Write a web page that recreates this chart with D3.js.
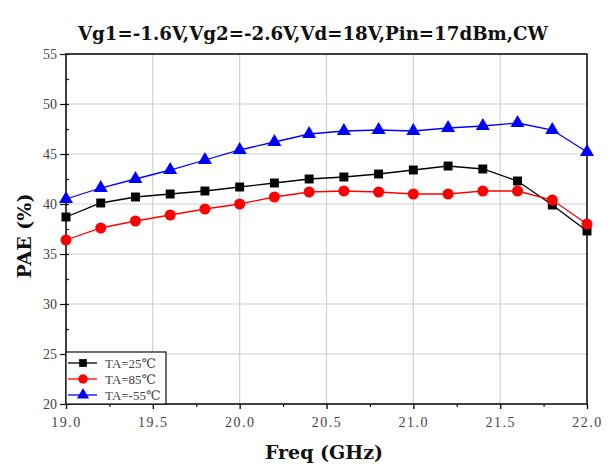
<!DOCTYPE html>
<html>
<head>
<meta charset="utf-8">
<script src="https://cdn.jsdelivr.net/npm/d3@7"></script>
<style>
  body { margin: 0; background: #fff; }
  svg { display: block; }
</style>
</head>
<body>
<script>
(function all (){
  //chart data
  var freq = [19.0, 19.2, 19.4, 19.6, 19.8, 20.0, 20.2, 20.4, 20.6, 20.8, 21.0, 21.2, 21.4, 21.6, 21.8, 22.0];
  var pae25 = [38.7, 40.1, 40.7, 41.0, 41.3, 41.7, 42.1, 42.5, 42.7, 43.0, 43.4, 43.8, 43.5, 42.3, 39.9, 37.3];
  var pae85 = [36.4, 37.6, 38.3, 38.9, 39.5, 40.0, 40.7, 41.2, 41.3, 41.2, 41.0, 41.0, 41.3, 41.3, 40.4, 38.0];
  var paeM55 = [40.5, 41.6, 42.5, 43.4, 44.4, 45.4, 46.2, 47.0, 47.3, 47.4, 47.3, 47.6, 47.8, 48.1, 47.4, 45.2];
  var seriesNames = ["TA=25\u2103", "TA=85\u2103", "TA=-55\u2103"];
  var xTicks = [19.0, 19.5, 20.0, 20.5, 21.0, 21.5, 22.0];
  var yTicks = [20, 25, 30, 35, 40, 45, 50, 55];

  var width = 611, height = 464;
  var margin = {left: 66, right: 24, top: 54, bottom: 60};

  var svg = d3.select("body").append("svg")
    .attr("width", width)
    .attr("height", height);

  var x = d3.scaleLinear().domain([19, 22]).range([margin.left, width - margin.right]);
  var y = d3.scaleLinear().domain([20, 55]).range([height - margin.bottom, margin.top]);

  var serif = "'Liberation Serif', 'DejaVu Serif', serif";

  //grid lines
  var grid = svg.append("g").attr("class", "grid");
  grid.selectAll(".vgrid")
    .data(xTicks.slice(1, -1))
    .enter().append("line")
    .attr("x1", function(d){ return x(d); })
    .attr("x2", function(d){ return x(d); })
    .attr("y1", y(20)).attr("y2", y(55))
    .attr("stroke", "#cfcfcf").attr("stroke-width", 1.2);
  grid.selectAll(".hgrid")
    .data(yTicks.slice(1, -1))
    .enter().append("line")
    .attr("y1", function(d){ return y(d); })
    .attr("y2", function(d){ return y(d); })
    .attr("x1", x(19)).attr("x2", x(22))
    .attr("stroke", "#cfcfcf").attr("stroke-width", 1.2);

  //frame
  svg.append("rect")
    .attr("x", x(19)).attr("y", y(55))
    .attr("width", x(22) - x(19)).attr("height", y(20) - y(55))
    .attr("fill", "none").attr("stroke", "#111").attr("stroke-width", 1.6);

  //axes
  var xAxis = d3.axisBottom(x).tickValues(xTicks).tickSize(5).tickFormat(d3.format(".1f"));
  var gx = svg.append("g")
    .attr("transform", "translate(0," + y(20) + ")")
    .call(xAxis);
  gx.select(".domain").remove();
  gx.selectAll("line").attr("stroke", "#111").attr("stroke-width", 1.4);
  gx.selectAll("text")
    .attr("dy", "1.05em")
    .style("font-family", serif).style("font-size", "14px")
    .style("letter-spacing", "1.5px").attr("fill", "#444");

  var xMinor = d3.axisBottom(x).tickValues([19.25, 19.75, 20.25, 20.75, 21.25, 21.75]).tickSize(3).tickFormat("");
  var gxm = svg.append("g").attr("transform", "translate(0," + y(20) + ")").call(xMinor);
  gxm.select(".domain").remove();
  gxm.selectAll("line").attr("stroke", "#111").attr("stroke-width", 1.2);

  var yAxis = d3.axisLeft(y).tickValues(yTicks).tickSize(6);
  var gy = svg.append("g")
    .attr("transform", "translate(" + x(19) + ",0)")
    .call(yAxis);
  gy.select(".domain").remove();
  gy.selectAll("line").attr("stroke", "#111").attr("stroke-width", 1.2).attr("x2", -6).attr("x1", 3);
  gy.selectAll("text")
    .attr("x", -9)
    .style("font-family", serif).style("font-size", "14px").attr("fill", "#444");

  var yMinor = d3.axisRight(y).tickValues([22.5, 27.5, 32.5, 37.5, 42.5, 47.5, 52.5]).tickSize(3).tickFormat("");
  var gym = svg.append("g").attr("transform", "translate(" + x(19) + ",0)").call(yMinor);
  gym.select(".domain").remove();
  gym.selectAll("line").attr("stroke", "#111").attr("stroke-width", 1.2);

  //series
  var series = [
    {name: seriesNames[0], values: pae25, color: "#000000", symbol: d3.symbolSquare, size: 80},
    {name: seriesNames[1], values: pae85, color: "#ff0000", symbol: d3.symbolCircle, size: 95},
    {name: seriesNames[2], values: paeM55, color: "#0000ff", symbol: d3.symbolTriangle, size: 85}
  ];

  var line = d3.line()
    .x(function(d){ return x(d[0]); })
    .y(function(d){ return y(d[1]); });

  var plot = svg.append("g");
  series.forEach(function(s){
    var pts = freq.map(function(f, i){ return [f, s.values[i]]; });
    plot.append("path")
      .datum(pts)
      .attr("d", line)
      .attr("fill", "none")
      .attr("stroke", s.color)
      .attr("stroke-width", 1.3);
    plot.selectAll(null)
      .data(pts)
      .enter().append("path")
      .attr("d", d3.symbol().type(s.symbol).size(s.size))
      .attr("transform", function(d){ return "translate(" + x(d[0]) + "," + y(d[1]) + ")"; })
      .attr("fill", s.color);
  });

  //legend
  var legend = svg.append("g").attr("transform", "translate(" + x(19) + ",352)");
  legend.append("rect")
    .attr("x", 0).attr("y", 0)
    .attr("width", 100).attr("height", y(20) - 352)
    .attr("fill", "#fff").attr("stroke", "#111").attr("stroke-width", 1.2);
  series.forEach(function(s, i){
    var ly = 11 + i * 16;
    legend.append("line")
      .attr("x1", 2).attr("x2", 31).attr("y1", ly).attr("y2", ly)
      .attr("stroke", s.color).attr("stroke-width", 1.3);
    legend.append("path")
      .attr("d", d3.symbol().type(s.symbol).size(s.size * 0.75))
      .attr("transform", "translate(17," + ly + ")")
      .attr("fill", s.color);
    legend.append("text")
      .attr("x", 39).attr("y", ly + 4.5)
      .style("font-family", serif).style("font-size", "13px")
      .attr("fill", "#444")
      .text(s.name);
  });

  //title
  svg.append("text")
    .attr("x", 313).attr("y", 40)
    .attr("text-anchor", "middle")
    .attr("textLength", 470).attr("lengthAdjust", "spacingAndGlyphs")
    .style("font-family", "'DejaVu Serif', serif").style("font-weight", "bold").style("font-size", "18px")
    .attr("fill", "#111")
    .text("Vg1=-1.6V,Vg2=-2.6V,Vd=18V,Pin=17dBm,CW");

  //axis titles
  svg.append("text")
    .attr("x", 324).attr("y", 459)
    .attr("text-anchor", "middle")
    .style("font-family", "'DejaVu Serif', serif").style("font-weight", "bold").style("font-size", "19px")
    .attr("fill", "#111")
    .text("Freq (GHz)");

  svg.append("text")
    .attr("transform", "translate(31,236) rotate(-90)")
    .attr("text-anchor", "middle")
    .style("font-family", "'DejaVu Serif', serif").style("font-weight", "bold").style("font-size", "19px")
    .attr("fill", "#111")
    .text("PAE (%)");
})();
</script>
</body>
</html>
